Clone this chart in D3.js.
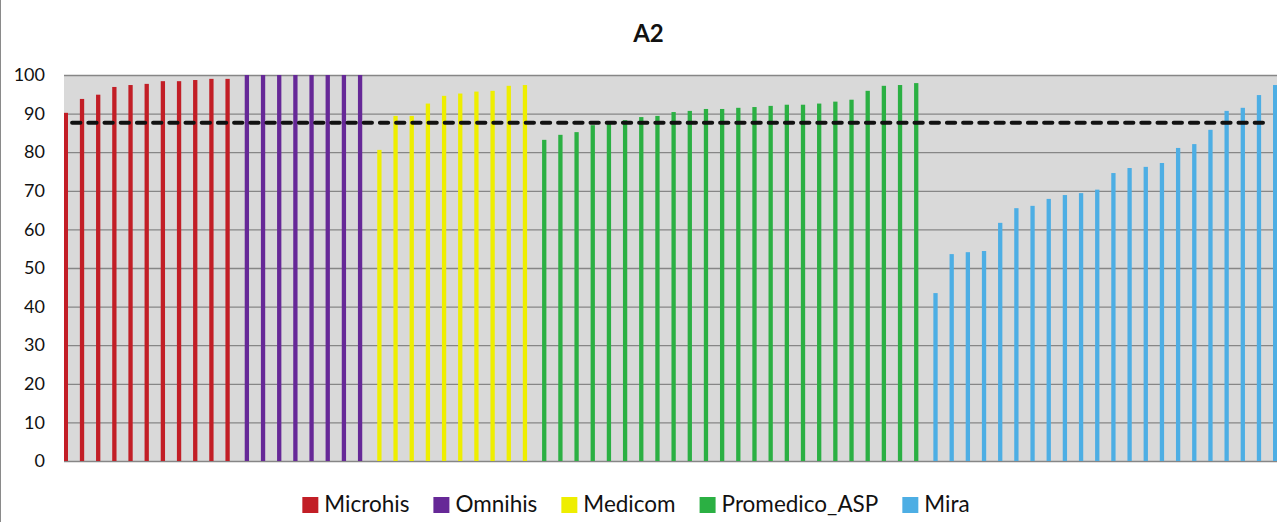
<!DOCTYPE html>
<html>
<head>
<meta charset="utf-8">
<script src="https://cdn.jsdelivr.net/npm/d3@7"></script>
<style>
  body { margin: 0; background: #fff; }
  svg { display: block; font-family: Lato, "Open Sans", sans-serif; }
</style>
</head>
<body>
<div id="chart"></div>
<script>
// values, one bar per category
var microhis = [90.2, 93.8, 94.9, 96.9, 97.4, 97.7, 98.4, 98.4, 98.7, 99.0, 99.0];
var omnihis = [100, 100, 100, 100, 100, 100, 100, 100];
var medicom = [80.6, 89.4, 89.4, 92.6, 94.6, 95.2, 95.7, 95.9, 97.2, 97.4];
var promedico = [83.2, 84.5, 85.2, 87.0, 87.8, 88.3, 89.1, 89.4, 90.4, 90.7, 91.2, 91.2,
                 91.5, 91.7, 92.0, 92.3, 92.3, 92.6, 93.1, 93.6, 95.9, 97.2, 97.4, 97.9];
var mira = [43.5, 53.6, 54.1, 54.4, 61.7, 65.5, 66.1, 67.9, 68.9, 69.4, 70.3, 74.6,
            75.9, 76.2, 77.2, 81.1, 82.1, 85.8, 90.7, 91.5, 94.8, 97.4];
var target = 87.6;

var seriesNames = ["Microhis", "Omnihis", "Medicom", "Promedico_ASP", "Mira"];
var seriesColors = ["#C21E26", "#662897", "#EEEE00", "#2BB043", "#4DAEE4"];
var yTicks = [0, 10, 20, 30, 40, 50, 60, 70, 80, 90, 100];

var W = 1287, H = 522;
var margin = {top: 75, right: 10, bottom: 61, left: 64};

// flatten into one row per category
var bars = [];
[microhis, omnihis, medicom, promedico, mira].forEach(function(arr, s) {
    arr.forEach(function(v) {
        bars.push({cat: bars.length, series: seriesNames[s], value: v});
    });
});

var svg = d3.select("#chart").append("svg")
    .attr("width", W)
    .attr("height", H);

// outer chart border (only left edge shows)
svg.append("line")
    .attr("x1", 0.5).attr("x2", 0.5)
    .attr("y1", 0).attr("y2", H)
    .attr("stroke", "#8a8a8a");

var x0 = d3.scaleBand()
    .domain(d3.range(bars.length))
    .range([margin.left, W - margin.right])
    .padding(0);

var x1 = d3.scaleBand()
    .domain(seriesNames)
    .range([-7.8, 7.8]);

var y = d3.scaleLinear()
    .domain([0, 100])
    .range([H - margin.bottom, margin.top]);

var color = d3.scaleOrdinal().domain(seriesNames).range(seriesColors);

// plot background
svg.append("rect")
    .attr("x", x0.range()[0])
    .attr("y", y(100))
    .attr("width", x0.range()[1] - x0.range()[0])
    .attr("height", y(0) - y(100))
    .attr("fill", "#D9D9D9");

var yAxis = svg.append("g")
    .attr("transform", "translate(" + margin.left + ",0)")
    .call(d3.axisLeft(y)
        .tickValues(yTicks)
        .tickSize(-(x0.range()[1] - x0.range()[0]))
        .tickPadding(19));
yAxis.select(".domain").remove();
yAxis.selectAll(".tick line").attr("stroke", "#868686").attr("stroke-width", 1.3);
yAxis.selectAll(".tick text")
    .attr("fill", "#111")
    .style("font-size", "18px")
    .style("font-family", "Lato, sans-serif");

// bars
var bw = 4.3;
svg.append("g")
    .attr("clip-path", "url(#plotclip)")
    .selectAll("rect")
    .data(bars)
    .enter().append("rect")
    .attr("x", function(d) { return x0(d.cat) + x0.bandwidth() / 2 + x1(d.series) + x1.bandwidth() / 2 - bw / 2; })
    .attr("y", function(d) { return y(d.value); })
    .attr("width", bw)
    .attr("height", function(d) { return y(0) - y(d.value); })
    .attr("fill", function(d) { return color(d.series); });

svg.append("clipPath").attr("id", "plotclip")
    .append("rect")
    .attr("x", x0.range()[0]).attr("y", 0)
    .attr("width", x0.range()[1] - x0.range()[0]).attr("height", H);

// target line across every category
var line = d3.line()
    .x(function(d) { return x0(d.cat) + x0.bandwidth() / 2; })
    .y(function() { return y(target); });

svg.append("path")
    .datum(bars)
    .attr("d", line)
    .attr("fill", "none")
    .attr("stroke", "#111")
    .attr("stroke-width", 4)
    .attr("stroke-linecap", "round")
    .attr("stroke-dasharray", "8.3,7.9");

// title
svg.append("text")
    .attr("x", 648.5)
    .attr("y", 42)
    .attr("text-anchor", "middle")
    .style("font-size", "24px")
    .style("font-weight", "bold")
    .attr("fill", "#111")
    .text("A2");

// legend
var legend = svg.append("g");
var lx = 0, gap = 24;
seriesNames.forEach(function(name) {
    var g = legend.append("g").attr("transform", "translate(" + lx + ",0)");
    g.append("rect")
        .attr("x", 0).attr("y", 497)
        .attr("width", 16).attr("height", 16)
        .attr("fill", color(name));
    var t = g.append("text")
        .attr("x", 22).attr("y", 512)
        .style("font-size", "22.5px")
        .attr("fill", "#111")
        .text(name);
    lx += 22 + t.node().getComputedTextLength() + gap;
});
var legendWidth = lx - gap;
legend.attr("transform", "translate(" + (636 - legendWidth / 2) + ",0)");
</script>
</body>
</html>
